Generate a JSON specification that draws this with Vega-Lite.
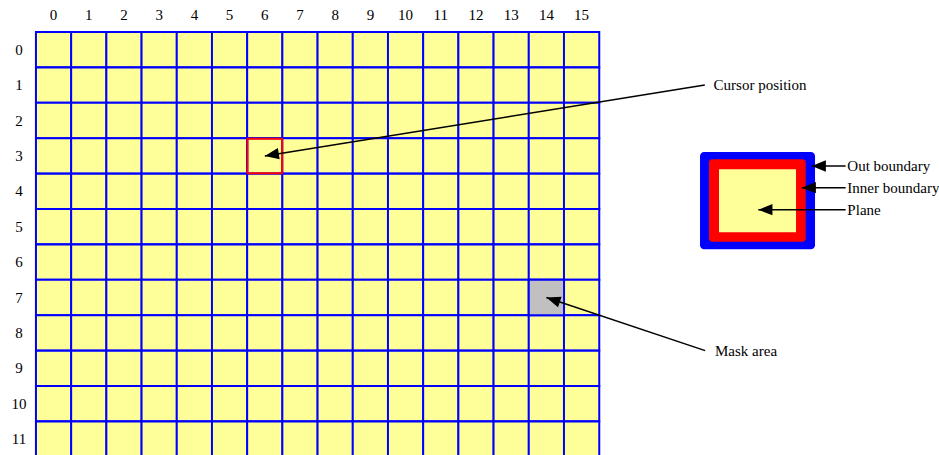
{
 "$schema": "https://vega.github.io/schema/vega-lite/v6.json",
 "width": 939, "height": 455, "padding": 0, "autosize": {"type": "none"},
 "background": "white",
 "config": {"view": {"stroke": null}, "text": {"font": "Liberation Serif", "fontSize": 15, "color": "#000000"}},
 "datasets": {
  "cells": [
   {"col":0,"row":0,"kind":"n"},{"col":1,"row":0,"kind":"n"},{"col":2,"row":0,"kind":"n"},{"col":3,"row":0,"kind":"n"},{"col":4,"row":0,"kind":"n"},{"col":5,"row":0,"kind":"n"},{"col":6,"row":0,"kind":"n"},{"col":7,"row":0,"kind":"n"},{"col":8,"row":0,"kind":"n"},{"col":9,"row":0,"kind":"n"},{"col":10,"row":0,"kind":"n"},{"col":11,"row":0,"kind":"n"},{"col":12,"row":0,"kind":"n"},{"col":13,"row":0,"kind":"n"},{"col":14,"row":0,"kind":"n"},{"col":15,"row":0,"kind":"n"},
   {"col":0,"row":1,"kind":"n"},{"col":1,"row":1,"kind":"n"},{"col":2,"row":1,"kind":"n"},{"col":3,"row":1,"kind":"n"},{"col":4,"row":1,"kind":"n"},{"col":5,"row":1,"kind":"n"},{"col":6,"row":1,"kind":"n"},{"col":7,"row":1,"kind":"n"},{"col":8,"row":1,"kind":"n"},{"col":9,"row":1,"kind":"n"},{"col":10,"row":1,"kind":"n"},{"col":11,"row":1,"kind":"n"},{"col":12,"row":1,"kind":"n"},{"col":13,"row":1,"kind":"n"},{"col":14,"row":1,"kind":"n"},{"col":15,"row":1,"kind":"n"},
   {"col":0,"row":2,"kind":"n"},{"col":1,"row":2,"kind":"n"},{"col":2,"row":2,"kind":"n"},{"col":3,"row":2,"kind":"n"},{"col":4,"row":2,"kind":"n"},{"col":5,"row":2,"kind":"n"},{"col":6,"row":2,"kind":"n"},{"col":7,"row":2,"kind":"n"},{"col":8,"row":2,"kind":"n"},{"col":9,"row":2,"kind":"n"},{"col":10,"row":2,"kind":"n"},{"col":11,"row":2,"kind":"n"},{"col":12,"row":2,"kind":"n"},{"col":13,"row":2,"kind":"n"},{"col":14,"row":2,"kind":"n"},{"col":15,"row":2,"kind":"n"},
   {"col":0,"row":3,"kind":"n"},{"col":1,"row":3,"kind":"n"},{"col":2,"row":3,"kind":"n"},{"col":3,"row":3,"kind":"n"},{"col":4,"row":3,"kind":"n"},{"col":5,"row":3,"kind":"n"},{"col":6,"row":3,"kind":"k"},{"col":7,"row":3,"kind":"n"},{"col":8,"row":3,"kind":"n"},{"col":9,"row":3,"kind":"n"},{"col":10,"row":3,"kind":"n"},{"col":11,"row":3,"kind":"n"},{"col":12,"row":3,"kind":"n"},{"col":13,"row":3,"kind":"n"},{"col":14,"row":3,"kind":"n"},{"col":15,"row":3,"kind":"n"},
   {"col":0,"row":4,"kind":"n"},{"col":1,"row":4,"kind":"n"},{"col":2,"row":4,"kind":"n"},{"col":3,"row":4,"kind":"n"},{"col":4,"row":4,"kind":"n"},{"col":5,"row":4,"kind":"n"},{"col":6,"row":4,"kind":"n"},{"col":7,"row":4,"kind":"n"},{"col":8,"row":4,"kind":"n"},{"col":9,"row":4,"kind":"n"},{"col":10,"row":4,"kind":"n"},{"col":11,"row":4,"kind":"n"},{"col":12,"row":4,"kind":"n"},{"col":13,"row":4,"kind":"n"},{"col":14,"row":4,"kind":"n"},{"col":15,"row":4,"kind":"n"},
   {"col":0,"row":5,"kind":"n"},{"col":1,"row":5,"kind":"n"},{"col":2,"row":5,"kind":"n"},{"col":3,"row":5,"kind":"n"},{"col":4,"row":5,"kind":"n"},{"col":5,"row":5,"kind":"n"},{"col":6,"row":5,"kind":"n"},{"col":7,"row":5,"kind":"n"},{"col":8,"row":5,"kind":"n"},{"col":9,"row":5,"kind":"n"},{"col":10,"row":5,"kind":"n"},{"col":11,"row":5,"kind":"n"},{"col":12,"row":5,"kind":"n"},{"col":13,"row":5,"kind":"n"},{"col":14,"row":5,"kind":"n"},{"col":15,"row":5,"kind":"n"},
   {"col":0,"row":6,"kind":"n"},{"col":1,"row":6,"kind":"n"},{"col":2,"row":6,"kind":"n"},{"col":3,"row":6,"kind":"n"},{"col":4,"row":6,"kind":"n"},{"col":5,"row":6,"kind":"n"},{"col":6,"row":6,"kind":"n"},{"col":7,"row":6,"kind":"n"},{"col":8,"row":6,"kind":"n"},{"col":9,"row":6,"kind":"n"},{"col":10,"row":6,"kind":"n"},{"col":11,"row":6,"kind":"n"},{"col":12,"row":6,"kind":"n"},{"col":13,"row":6,"kind":"n"},{"col":14,"row":6,"kind":"n"},{"col":15,"row":6,"kind":"n"},
   {"col":0,"row":7,"kind":"n"},{"col":1,"row":7,"kind":"n"},{"col":2,"row":7,"kind":"n"},{"col":3,"row":7,"kind":"n"},{"col":4,"row":7,"kind":"n"},{"col":5,"row":7,"kind":"n"},{"col":6,"row":7,"kind":"n"},{"col":7,"row":7,"kind":"n"},{"col":8,"row":7,"kind":"n"},{"col":9,"row":7,"kind":"n"},{"col":10,"row":7,"kind":"n"},{"col":11,"row":7,"kind":"n"},{"col":12,"row":7,"kind":"n"},{"col":13,"row":7,"kind":"n"},{"col":14,"row":7,"kind":"m"},{"col":15,"row":7,"kind":"n"},
   {"col":0,"row":8,"kind":"n"},{"col":1,"row":8,"kind":"n"},{"col":2,"row":8,"kind":"n"},{"col":3,"row":8,"kind":"n"},{"col":4,"row":8,"kind":"n"},{"col":5,"row":8,"kind":"n"},{"col":6,"row":8,"kind":"n"},{"col":7,"row":8,"kind":"n"},{"col":8,"row":8,"kind":"n"},{"col":9,"row":8,"kind":"n"},{"col":10,"row":8,"kind":"n"},{"col":11,"row":8,"kind":"n"},{"col":12,"row":8,"kind":"n"},{"col":13,"row":8,"kind":"n"},{"col":14,"row":8,"kind":"n"},{"col":15,"row":8,"kind":"n"},
   {"col":0,"row":9,"kind":"n"},{"col":1,"row":9,"kind":"n"},{"col":2,"row":9,"kind":"n"},{"col":3,"row":9,"kind":"n"},{"col":4,"row":9,"kind":"n"},{"col":5,"row":9,"kind":"n"},{"col":6,"row":9,"kind":"n"},{"col":7,"row":9,"kind":"n"},{"col":8,"row":9,"kind":"n"},{"col":9,"row":9,"kind":"n"},{"col":10,"row":9,"kind":"n"},{"col":11,"row":9,"kind":"n"},{"col":12,"row":9,"kind":"n"},{"col":13,"row":9,"kind":"n"},{"col":14,"row":9,"kind":"n"},{"col":15,"row":9,"kind":"n"},
   {"col":0,"row":10,"kind":"n"},{"col":1,"row":10,"kind":"n"},{"col":2,"row":10,"kind":"n"},{"col":3,"row":10,"kind":"n"},{"col":4,"row":10,"kind":"n"},{"col":5,"row":10,"kind":"n"},{"col":6,"row":10,"kind":"n"},{"col":7,"row":10,"kind":"n"},{"col":8,"row":10,"kind":"n"},{"col":9,"row":10,"kind":"n"},{"col":10,"row":10,"kind":"n"},{"col":11,"row":10,"kind":"n"},{"col":12,"row":10,"kind":"n"},{"col":13,"row":10,"kind":"n"},{"col":14,"row":10,"kind":"n"},{"col":15,"row":10,"kind":"n"},
   {"col":0,"row":11,"kind":"n"},{"col":1,"row":11,"kind":"n"},{"col":2,"row":11,"kind":"n"},{"col":3,"row":11,"kind":"n"},{"col":4,"row":11,"kind":"n"},{"col":5,"row":11,"kind":"n"},{"col":6,"row":11,"kind":"n"},{"col":7,"row":11,"kind":"n"},{"col":8,"row":11,"kind":"n"},{"col":9,"row":11,"kind":"n"},{"col":10,"row":11,"kind":"n"},{"col":11,"row":11,"kind":"n"},{"col":12,"row":11,"kind":"n"},{"col":13,"row":11,"kind":"n"},{"col":14,"row":11,"kind":"n"},{"col":15,"row":11,"kind":"n"}
  ],
  "legend": [
   {"part": "outer", "x0": 18.364, "x1": 21.631, "y0": 2.89, "y1": 5.638},
   {"part": "inner", "x0": 18.619, "x1": 21.366, "y0": 3.096, "y1": 5.424},
   {"part": "plane", "x0": 18.903, "x1": 21.091, "y0": 3.379, "y1": 5.158}
  ],
  "arrows": [
   {"name": "Cursor position", "tx": 18.5, "ty": 1.0, "hx": 6.0, "hy": 3.0, "heading": 260.8},
   {"name": "Mask area", "tx": 18.51, "ty": 8.5, "hx": 14.0, "hy": 7.0, "heading": 288.5},
   {"name": "Out boundary", "tx": 22.5, "ty": 3.285, "hx": 21.537, "hy": 3.285, "heading": 270},
   {"name": "Inner boundary", "tx": 22.5, "ty": 3.898, "hx": 21.253, "hy": 3.898, "heading": 270},
   {"name": "Plane", "tx": 22.5, "ty": 4.52, "hx": 20.02, "hy": 4.52, "heading": 270}
  ],
  "notes": [
   {"text": "Cursor position", "x": 18.75, "y": 1.0},
   {"text": "Mask area", "x": 18.79, "y": 8.5},
   {"text": "Out boundary", "x": 22.55, "y": 3.285},
   {"text": "Inner boundary", "x": 22.55, "y": 3.898},
   {"text": "Plane", "x": 22.55, "y": 4.52}
  ]
 },
 "layer": [
  {
   "data": {"name": "cells"},
   "mark": {"type": "point", "shape": "square", "size": 1246, "filled": true, "fill": "#FFFF99", "stroke": "#0000FF", "strokeWidth": 2, "opacity": 1},
   "encoding": {
    "x": {"field": "col", "type": "quantitative", "scale": {"domain": [-1.5227, 25.153], "nice": false, "zero": false}, "axis": null},
    "y": {"field": "row", "type": "quantitative", "scale": {"domain": [-1.404, 11.449], "nice": false, "zero": false, "reverse": true}, "axis": null}
   }
  },
  {
   "data": {"name": "cells"},
   "transform": [{"filter": "datum.kind == 'm'"}],
   "mark": {"type": "point", "shape": "square", "size": 1246, "filled": true, "fill": "#C0C0C0", "stroke": "#0000FF", "strokeWidth": 2, "opacity": 1},
   "encoding": {
    "x": {"field": "col", "type": "quantitative", "scale": {"domain": [-1.5227, 25.153], "nice": false, "zero": false}, "axis": null},
    "y": {"field": "row", "type": "quantitative", "scale": {"domain": [-1.404, 11.449], "nice": false, "zero": false, "reverse": true}, "axis": null}
   }
  },
  {
   "data": {"name": "cells"},
   "transform": [{"filter": "datum.kind == 'k'"}],
   "mark": {"type": "point", "shape": "square", "size": 1190, "filled": false, "fill": null, "stroke": "#FF0000", "strokeWidth": 2, "opacity": 1},
   "encoding": {
    "x": {"field": "col", "type": "quantitative", "scale": {"domain": [-1.5227, 25.153], "nice": false, "zero": false}, "axis": null},
    "y": {"field": "row", "type": "quantitative", "scale": {"domain": [-1.404, 11.449], "nice": false, "zero": false, "reverse": true}, "axis": null}
   }
  },
  {
   "data": {"name": "cells"},
   "transform": [{"filter": "datum.row == 0"}],
   "mark": {"type": "text", "align": "center", "baseline": "middle", "font": "Liberation Serif", "fontSize": 15},
   "encoding": {
    "x": {"field": "col", "type": "quantitative", "scale": {"domain": [-1.5227, 25.153], "nice": false, "zero": false}, "axis": null},
    "y": {"datum": -0.98, "type": "quantitative", "scale": {"domain": [-1.404, 11.449], "nice": false, "zero": false, "reverse": true}, "axis": null},
    "text": {"field": "col", "type": "nominal"}
   }
  },
  {
   "data": {"name": "cells"},
   "transform": [{"filter": "datum.col == 0"}],
   "mark": {"type": "text", "align": "center", "baseline": "middle", "font": "Liberation Serif", "fontSize": 15},
   "encoding": {
    "x": {"datum": -0.983, "type": "quantitative", "scale": {"domain": [-1.5227, 25.153], "nice": false, "zero": false}, "axis": null},
    "y": {"field": "row", "type": "quantitative", "scale": {"domain": [-1.404, 11.449], "nice": false, "zero": false, "reverse": true}, "axis": null},
    "text": {"field": "row", "type": "nominal"}
   }
  },
  {
   "data": {"name": "legend"},
   "transform": [{"filter": "datum.part == 'outer'"}],
   "mark": {"type": "rect", "fill": "#0000FF", "cornerRadius": 4},
   "encoding": {
    "x": {"field": "x0", "type": "quantitative", "scale": {"domain": [-1.5227, 25.153], "nice": false, "zero": false}, "axis": null},
    "x2": {"field": "x1"},
    "y": {"field": "y0", "type": "quantitative", "scale": {"domain": [-1.404, 11.449], "nice": false, "zero": false, "reverse": true}, "axis": null},
    "y2": {"field": "y1"}
   }
  },
  {
   "data": {"name": "legend"},
   "transform": [{"filter": "datum.part == 'inner'"}],
   "mark": {"type": "rect", "fill": "#FF0000", "cornerRadius": 3},
   "encoding": {
    "x": {"field": "x0", "type": "quantitative", "scale": {"domain": [-1.5227, 25.153], "nice": false, "zero": false}, "axis": null},
    "x2": {"field": "x1"},
    "y": {"field": "y0", "type": "quantitative", "scale": {"domain": [-1.404, 11.449], "nice": false, "zero": false, "reverse": true}, "axis": null},
    "y2": {"field": "y1"}
   }
  },
  {
   "data": {"name": "legend"},
   "transform": [{"filter": "datum.part == 'plane'"}],
   "mark": {"type": "rect", "fill": "#FFFF99"},
   "encoding": {
    "x": {"field": "x0", "type": "quantitative", "scale": {"domain": [-1.5227, 25.153], "nice": false, "zero": false}, "axis": null},
    "x2": {"field": "x1"},
    "y": {"field": "y0", "type": "quantitative", "scale": {"domain": [-1.404, 11.449], "nice": false, "zero": false, "reverse": true}, "axis": null},
    "y2": {"field": "y1"}
   }
  },
  {
   "data": {"name": "arrows"},
   "mark": {"type": "rule", "stroke": "#000000", "strokeWidth": 1.5},
   "encoding": {
    "x": {"field": "tx", "type": "quantitative", "scale": {"domain": [-1.5227, 25.153], "nice": false, "zero": false}, "axis": null},
    "y": {"field": "ty", "type": "quantitative", "scale": {"domain": [-1.404, 11.449], "nice": false, "zero": false, "reverse": true}, "axis": null},
    "x2": {"field": "hx"},
    "y2": {"field": "hy"}
   }
  },
  {
   "data": {"name": "arrows"},
   "mark": {"type": "point", "shape": "M0,0L0.8,2L-0.8,2Z", "size": 200, "filled": true, "fill": "#000000", "stroke": null, "opacity": 1},
   "encoding": {
    "x": {"field": "hx", "type": "quantitative", "scale": {"domain": [-1.5227, 25.153], "nice": false, "zero": false}, "axis": null},
    "y": {"field": "hy", "type": "quantitative", "scale": {"domain": [-1.404, 11.449], "nice": false, "zero": false, "reverse": true}, "axis": null},
    "angle": {"field": "heading", "type": "quantitative", "scale": null}
   }
  },
  {
   "data": {"name": "notes"},
   "mark": {"type": "text", "align": "left", "baseline": "middle", "font": "Liberation Serif", "fontSize": 15},
   "encoding": {
    "x": {"field": "x", "type": "quantitative", "scale": {"domain": [-1.5227, 25.153], "nice": false, "zero": false}, "axis": null},
    "y": {"field": "y", "type": "quantitative", "scale": {"domain": [-1.404, 11.449], "nice": false, "zero": false, "reverse": true}, "axis": null},
    "text": {"field": "text", "type": "nominal"}
   }
  }
 ]
}
